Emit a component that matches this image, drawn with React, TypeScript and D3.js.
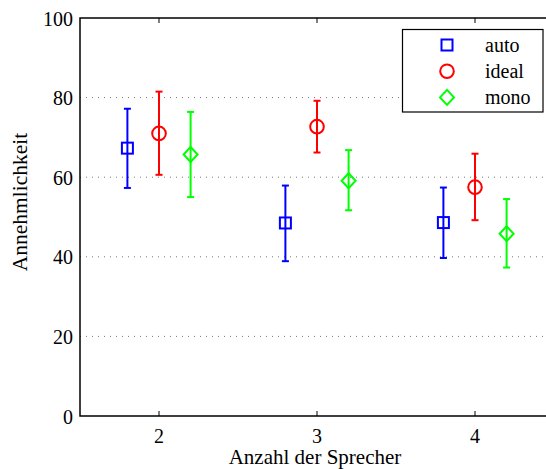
import React, { useEffect, useRef } from "react";
import * as d3 from "d3";

// data
const speakers = [2, 3, 4];
const seriesNames = ["auto", "ideal", "mono"];
const seriesColors = ["#0000ff", "#ff0000", "#00ff00"];
const seriesOffsets = [-0.2, 0, 0.2];
const autoMean = [67.3, 48.5, 48.6];
const autoLow = [57.3, 38.9, 39.7];
const autoHigh = [77.2, 57.9, 57.4];
const idealMean = [71.0, 72.7, 57.5];
const idealLow = [60.6, 66.2, 49.2];
const idealHigh = [81.5, 79.2, 65.9];
const monoMean = [65.7, 59.1, 45.8];
const monoLow = [55.0, 51.7, 37.3];
const monoHigh = [76.4, 66.8, 54.5];
const yTicks = [0, 20, 40, 60, 80, 100];

const App = () => {
  const ref = useRef<SVGSVGElement>(null);

  useEffect(() => {
    const svg = d3.select(ref.current);
    svg.selectAll("*").remove();

    const x = d3.scaleLinear().domain([1.5, 4.5]).range([80, 554]);
    const y = d3.scaleLinear().domain([0, 100]).range([416, 18]);

    // dotted grid
    svg
      .append("g")
      .selectAll("line")
      .data(yTicks.filter((t) => t > 0 && t < 100))
      .enter()
      .append("line")
      .attr("x1", x(1.5))
      .attr("x2", x(4.5))
      .attr("y1", (d) => y(d))
      .attr("y2", (d) => y(d))
      .attr("stroke", "#777")
      .attr("stroke-width", 1)
      .attr("stroke-dasharray", "1,5");

    // axes box (right side is outside the window)
    svg
      .append("path")
      .attr("d", `M${x(4.5)},${y(100)}H${x(1.5)}V${y(0)}H${x(4.5)}`)
      .attr("fill", "none")
      .attr("stroke", "#000")
      .attr("stroke-width", 1.5);

    // inward x ticks, top and bottom
    speakers.forEach((s) => {
      svg.append("line").attr("x1", x(s)).attr("x2", x(s))
        .attr("y1", y(0)).attr("y2", y(0) - 5).attr("stroke", "#000");
      svg.append("line").attr("x1", x(s)).attr("x2", x(s))
        .attr("y1", y(100)).attr("y2", y(100) + 5).attr("stroke", "#000");
    });

    svg
      .append("g")
      .selectAll("text")
      .data(speakers)
      .enter()
      .append("text")
      .attr("x", (d) => x(d))
      .attr("y", 443)
      .attr("text-anchor", "middle")
      .attr("font-size", 20)
      .text((d) => d);

    svg
      .append("g")
      .selectAll("text")
      .data(yTicks)
      .enter()
      .append("text")
      .attr("x", 73)
      .attr("y", (d) => y(d) + 7.5)
      .attr("text-anchor", "end")
      .attr("font-size", 20)
      .text((d) => d);

    svg
      .append("text")
      .attr("x", 315)
      .attr("y", 464)
      .attr("text-anchor", "middle")
      .attr("font-size", 21)
      .text("Anzahl der Sprecher");

    svg
      .append("text")
      .attr("transform", `translate(27,202) rotate(-90)`)
      .attr("text-anchor", "middle")
      .attr("font-size", 21.5)
      .text("Annehmlichkeit");

    const means = [autoMean, idealMean, monoMean];
    const lows = [autoLow, idealLow, monoLow];
    const highs = [autoHigh, idealHigh, monoHigh];

    const drawMarker = (g: any, i: number, cx: number, cy: number, color: string) => {
      if (i === 0) {
        g.append("rect").attr("x", cx - 5.5).attr("y", cy - 5.5)
          .attr("width", 11).attr("height", 11)
          .attr("fill", "none").attr("stroke", color).attr("stroke-width", 2);
      } else if (i === 1) {
        g.append("circle").attr("cx", cx).attr("cy", cy).attr("r", 6.8)
          .attr("fill", "none").attr("stroke", color).attr("stroke-width", 2);
      } else {
        g.append("path")
          .attr("d", `M${cx},${cy - 7.5}L${cx + 7},${cy}L${cx},${cy + 7.5}L${cx - 7},${cy}Z`)
          .attr("fill", "none").attr("stroke", color).attr("stroke-width", 2);
      }
    };

    seriesNames.forEach((name, i) => {
      const color = seriesColors[i];
      const g = svg.append("g");
      speakers.forEach((s, j) => {
        const cx = x(s + seriesOffsets[i]);
        g.append("line").attr("x1", cx).attr("x2", cx)
          .attr("y1", y(lows[i][j])).attr("y2", y(highs[i][j]))
          .attr("stroke", color).attr("stroke-width", 2);
        [lows[i][j], highs[i][j]].forEach((v) => {
          g.append("line").attr("x1", cx - 3.5).attr("x2", cx + 3.5)
            .attr("y1", y(v)).attr("y2", y(v))
            .attr("stroke", color).attr("stroke-width", 2);
        });
        drawMarker(g, i, cx, y(means[i][j]), color);
      });
    });

    // legend
    const lg = svg.append("g");
    lg.append("rect")
      .attr("x", 402.5).attr("y", 29.5).attr("width", 140.5).attr("height", 82.5)
      .attr("fill", "#fff").attr("stroke", "#000").attr("stroke-width", 1.2);
    seriesNames.forEach((name, i) => {
      const ly = 45 + i * 26.2;
      drawMarker(lg, i, 447, ly, seriesColors[i]);
      lg.append("text")
        .attr("x", 485)
        .attr("y", ly + 7)
        .attr("font-size", 20)
        .text(name);
    });
  }, []);

  return (
    <svg
      ref={ref}
      width={546}
      height={469}
      style={{
        position: "absolute",
        left: 0,
        top: 0,
        background: "#fff",
        fontFamily: '"Liberation Serif", "Times New Roman", serif',
      }}
    />
  );
};

export default App;
